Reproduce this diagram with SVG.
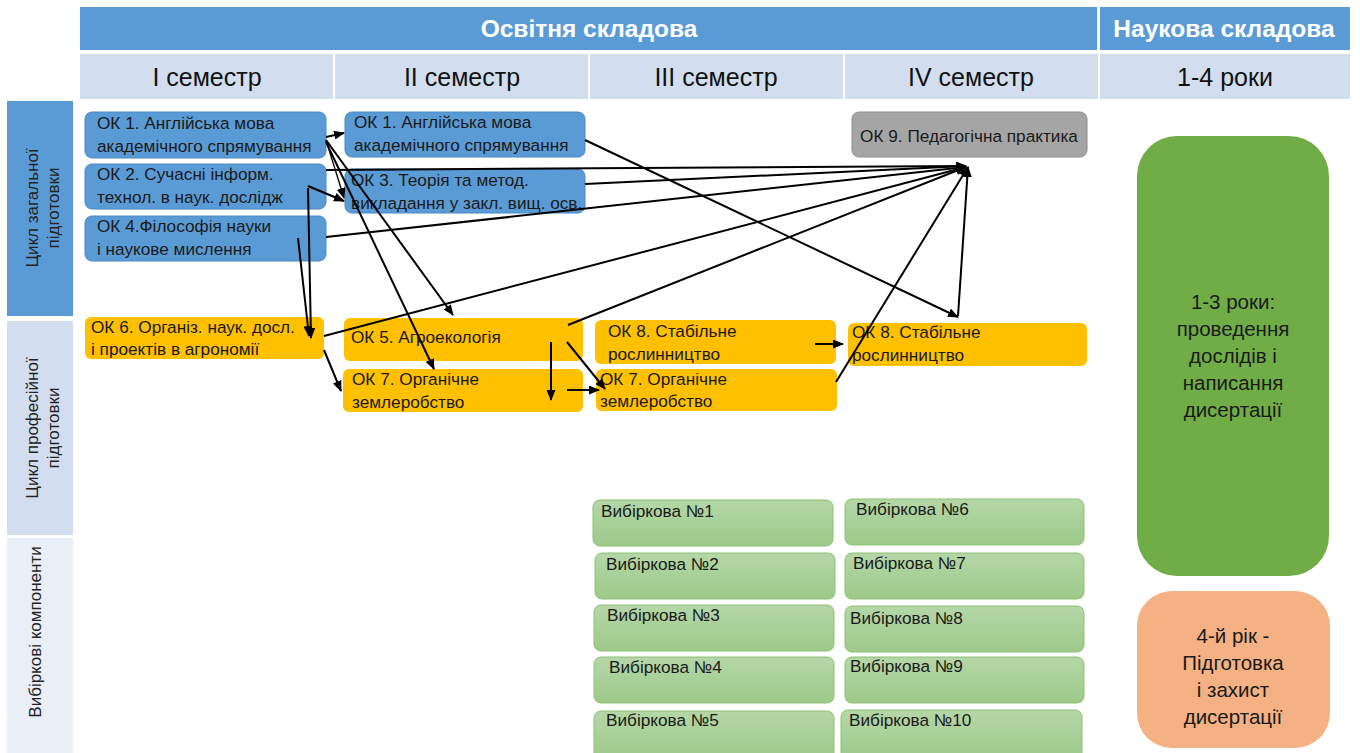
<svg xmlns="http://www.w3.org/2000/svg" width="1360" height="753" viewBox="0 0 1360 753">
<style>
.hdr{fill:#5B9BD5}
.sem{fill:#D2DEEF}
.htxt{font-family:"Liberation Sans",Arial,sans-serif;font-size:24.5px;font-weight:bold;fill:#fff;text-anchor:middle}
.stxt{font-family:"Liberation Sans",Arial,sans-serif;font-size:25px;fill:#111;text-anchor:middle}
.vt{font-family:"Liberation Sans",Arial,sans-serif;font-size:17px;fill:#222;text-anchor:middle}
.blue{fill:#5B9BD5;stroke:#4A88C2;stroke-width:1}
.org{fill:#FFC000}
.grey{fill:#A5A5A5;stroke:#8E8E8E;stroke-width:1}
.el{fill:url(#gg);stroke:#8CC072;stroke-width:1}
.t{font-family:"Liberation Sans",Arial,sans-serif;font-size:17.2px;fill:#1a1a1a}
.bt{font-family:"Liberation Sans",Arial,sans-serif;font-size:20.5px;fill:#1a1a1a;text-anchor:middle}
.c{stroke:#000;stroke-width:2;fill:none;marker-end:url(#ah)}
</style>
<defs>
<linearGradient id="gg" x1="0" y1="0" x2="0" y2="1">
<stop offset="0" stop-color="#B5D7A7"/>
<stop offset="1" stop-color="#9DC98A"/>
</linearGradient>
<marker id="ah" markerUnits="userSpaceOnUse" markerWidth="11" markerHeight="9" refX="10" refY="4.5" orient="auto">
<path d="M0,0 L11,4.5 L0,9 z" fill="#000"/>
</marker>
</defs>
<rect width="1360" height="753" fill="#fff"/>

<g id="header">
<rect class="hdr" x="80" y="7" width="1017" height="43"/>
<rect class="hdr" x="1100" y="7" width="250" height="43"/>
<text class="htxt" x="589" y="37">Освітня складова</text>
<text class="htxt" x="1224" y="37">Наукова складова</text>
<rect class="sem" x="80" y="54" width="253" height="45"/>
<rect class="sem" x="335" y="54" width="253" height="45"/>
<rect class="sem" x="590" y="54" width="253" height="45"/>
<rect class="sem" x="845" y="54" width="253" height="45"/>
<rect class="sem" x="1100" y="54" width="250" height="45"/>
<text class="stxt" x="207" y="86">I семестр</text>
<text class="stxt" x="462" y="86">II семестр</text>
<text class="stxt" x="716" y="86">III семестр</text>
<text class="stxt" x="971" y="86">IV семестр</text>
<text class="stxt" x="1225" y="86">1-4 роки</text>
</g>

<g id="rows">
<rect x="7" y="101" width="66" height="215" fill="#5B9BD5"/>
<text class="vt" transform="translate(38,208) rotate(-90)">Цикл загальної</text>
<text class="vt" transform="translate(59,208) rotate(-90)">підготовки</text>
<rect x="7" y="321" width="66" height="214" fill="#D2DEEF"/>
<text class="vt" transform="translate(38,428) rotate(-90)">Цикл професійної</text>
<text class="vt" transform="translate(59,428) rotate(-90)">підготовки</text>
<rect x="7" y="538" width="66" height="215" fill="#E9EEF7"/>
<text class="vt" transform="translate(41,632) rotate(-90)">Вибіркові компоненти</text>
</g>

<g id="ok1a"><rect class="blue" x="85" y="112" width="241" height="46" rx="7"/><text class="t" x="97" y="129">ОК 1. Англійська мова</text><text class="t" x="97" y="152">академічного спрямування</text></g>
<g id="ok2"><rect class="blue" x="85" y="164" width="241" height="45" rx="7"/><text class="t" x="97" y="180">ОК 2. Сучасні інформ.</text><text class="t" x="97" y="203">технол. в наук. дослідж</text></g>
<g id="ok4"><rect class="blue" x="85" y="216" width="241" height="45" rx="7"/><text class="t" x="97" y="232">ОК 4.Філософія науки</text><text class="t" x="97" y="255">і наукове мислення</text></g>
<g id="ok6"><rect class="org" x="85" y="317" width="239" height="42" rx="6"/><text class="t" x="91" y="333">ОК 6. Організ. наук. досл.</text><text class="t" x="91" y="355">і проектів в агрономії</text></g>
<g id="ok1b"><rect class="blue" x="345" y="112" width="240" height="45" rx="7"/><text class="t" x="354" y="128">ОК 1. Англійська мова</text><text class="t" x="354" y="151">академічного спрямування</text></g>
<g id="ok3"><rect class="blue" x="345" y="169" width="240" height="44" rx="7"/><text class="t" x="351" y="186">ОК 3. Теорія та метод.</text><text class="t" x="351" y="209">викладання у закл. вищ. осв.</text></g>
<g id="ok5"><rect class="org" x="344" y="318" width="239" height="43" rx="6"/><text class="t" x="351" y="343">ОК 5. Агроекологія</text></g>
<g id="ok7a"><rect class="org" x="343" y="369" width="240" height="43" rx="6"/><text class="t" x="352" y="385">ОК 7. Органічне</text><text class="t" x="352" y="408">землеробство</text></g>
<g id="ok8a"><rect class="org" x="595" y="320" width="241" height="44" rx="6"/><text class="t" x="608" y="337">ОК 8. Стабільне</text><text class="t" x="608" y="360">рослинництво</text></g>
<g id="ok7b"><rect class="org" x="596" y="369" width="241" height="42" rx="6"/><text class="t" x="600" y="385">ОК 7. Органічне</text><text class="t" x="600" y="407">землеробство</text></g>
<g id="ok9"><rect class="grey" x="852" y="112" width="235" height="45" rx="7"/><text class="t" x="969" y="142" text-anchor="middle">ОК 9. Педагогічна практика</text></g>
<g id="ok8b"><rect class="org" x="848" y="323" width="239" height="43" rx="6"/><text class="t" x="852" y="338">ОК 8. Стабільне</text><text class="t" x="852" y="361">рослинництво</text></g>

<g id="el1"><rect class="el" x="593" y="500" width="240" height="46" rx="7"/><text class="t" x="601" y="517">Вибіркова №1</text></g>
<g id="el2"><rect class="el" x="595" y="553" width="240" height="46" rx="7"/><text class="t" x="606" y="570">Вибіркова №2</text></g>
<g id="el3"><rect class="el" x="594" y="605" width="240" height="46" rx="7"/><text class="t" x="607" y="621">Вибіркова №3</text></g>
<g id="el4"><rect class="el" x="594" y="657" width="240" height="46" rx="7"/><text class="t" x="609" y="673">Вибіркова №4</text></g>
<g id="el5"><rect class="el" x="594" y="711" width="240" height="50" rx="7"/><text class="t" x="606" y="726">Вибіркова №5</text></g>
<g id="el6"><rect class="el" x="845" y="499" width="239" height="46" rx="7"/><text class="t" x="856" y="515">Вибіркова №6</text></g>
<g id="el7"><rect class="el" x="845" y="553" width="239" height="46" rx="7"/><text class="t" x="853" y="569">Вибіркова №7</text></g>
<g id="el8"><rect class="el" x="845" y="606" width="239" height="46" rx="7"/><text class="t" x="850" y="624">Вибіркова №8</text></g>
<g id="el9"><rect class="el" x="845" y="657" width="239" height="46" rx="7"/><text class="t" x="850" y="672">Вибіркова №9</text></g>
<g id="el10"><rect class="el" x="841" y="710" width="241" height="50" rx="7"/><text class="t" x="849" y="726">Вибіркова №10</text></g>

<g id="research"><rect x="1137" y="136" width="192" height="440" rx="40" fill="#70AD47"/>
<text class="bt" x="1233" y="309">1-3 роки:</text><text class="bt" x="1233" y="336">проведення</text><text class="bt" x="1233" y="363">дослідів і</text><text class="bt" x="1233" y="390">написання</text><text class="bt" x="1233" y="417">дисертації</text></g>
<g id="defense"><rect x="1137" y="591" width="193" height="157" rx="35" fill="#F4B183"/>
<text class="bt" x="1233" y="643">4-й рік -</text><text class="bt" x="1233" y="670">Підготовка</text><text class="bt" x="1233" y="697">і захист</text><text class="bt" x="1233" y="724">дисертації</text></g>

<g id="connectors">
<line class="c" x1="326" y1="137" x2="344" y2="133"/>
<line class="c" x1="326" y1="140" x2="344" y2="198" style="stroke-width:1.3"/>
<line class="c" x1="326" y1="140" x2="453" y2="315"/>
<line class="c" x1="326" y1="142" x2="434" y2="369"/>
<line class="c" x1="308" y1="186" x2="344" y2="201"/>
<line class="c" x1="308" y1="188" x2="311" y2="338"/>
<line class="c" x1="298" y1="238" x2="309" y2="336"/>
<line class="c" x1="326" y1="170" x2="966" y2="166"/>
<line class="c" x1="585" y1="184" x2="966" y2="166"/>
<line class="c" x1="326" y1="237" x2="966" y2="167"/>
<line class="c" x1="324" y1="336" x2="966" y2="167"/>
<line class="c" x1="568" y1="325" x2="966" y2="167"/>
<line class="c" x1="836" y1="382" x2="968" y2="167"/>
<line class="c" x1="958" y1="316" x2="968" y2="167"/>
<line class="c" x1="585" y1="140" x2="958" y2="317"/>
<line class="c" x1="324" y1="350" x2="341" y2="391"/>
<line class="c" x1="551" y1="342" x2="551" y2="400"/>
<line class="c" x1="567" y1="390" x2="599" y2="390"/>
<line class="c" x1="567" y1="342" x2="605" y2="389"/>
<line class="c" x1="815" y1="344" x2="843" y2="344"/>
</g>
</svg>
